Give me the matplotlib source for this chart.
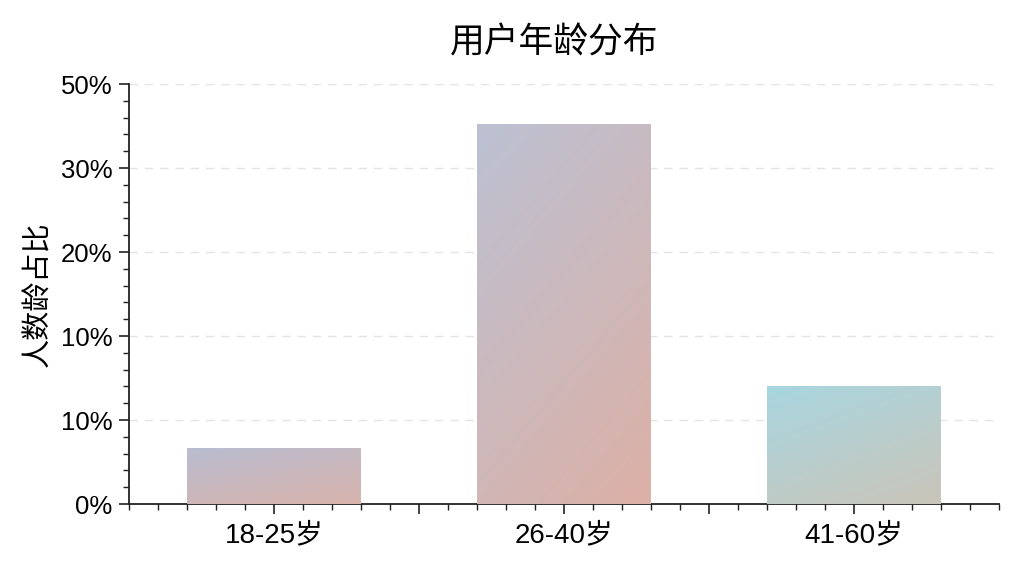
import numpy as np
import matplotlib
matplotlib.use("Agg")
import matplotlib.pyplot as plt
from matplotlib.colors import LinearSegmentedColormap
from matplotlib.ticker import MultipleLocator

plt.rcParams['font.family'] = ['Liberation Sans', 'Noto Sans CJK SC', 'DejaVu Sans']

categories = ["18-25岁", "26-40岁", "41-60岁"]
values = [6.7, 45.2, 14.1]
ytick_pos = [0, 10, 20, 30, 40, 50]
ytick_labels = ["0%", "10%", "10%", "20%", "30%", "50%"]
title = "用户年龄分布"
ylabel = "人数龄占比"
grad_start = ["#b9bdd0", "#bcc1d2", "#a8d6e0"]
grad_end = ["#d8b3ac", "#dcb0a6", "#cac5b9"]

fig = plt.figure(figsize=(10.24, 5.76), dpi=100)
ax = fig.add_axes([0.126, 0.125, 0.8496, 0.729])

x = np.arange(len(categories))
bars = ax.bar(x, values, width=0.6, color='none', edgecolor='none', zorder=3)

n = 100
u = np.linspace(0, 1, n)
U, V = np.meshgrid(u, u)
T = 0.35 * U + 0.65 * V
for b, c0, c1 in zip(bars, grad_start, grad_end):
    cmap = LinearSegmentedColormap.from_list("g", [c0, c1])
    x0, y0 = b.get_x(), b.get_y()
    w, h = b.get_width(), b.get_height()
    im = ax.imshow(T, cmap=cmap, extent=(x0, x0 + w, y0, y0 + h),
                   origin='upper', aspect='auto', zorder=3, interpolation='bilinear')
    im.set_clip_path(b)

for yv in ytick_pos[1:]:
    ax.axhline(yv, color='#e3e3e3', lw=1.0, ls=(0, (6, 5)), zorder=1)

ax.set_xlim(-0.5, 2.5)
ax.set_ylim(0, 50)
ax.set_yticks(ytick_pos)
ax.set_yticklabels(ytick_labels, fontsize=18.5)
ax.yaxis.set_minor_locator(MultipleLocator(2))
ax.set_xticks([0, 0.5, 1, 1.5, 2])
ax.set_xticklabels([categories[0], "", categories[1], "", categories[2]], fontsize=20)
ax.xaxis.set_minor_locator(MultipleLocator(0.1))

for s in ['top', 'right']:
    ax.spines[s].set_visible(False)
for s in ['left', 'bottom']:
    ax.spines[s].set_linewidth(1.3)
    ax.spines[s].set_color('#222222')

ax.tick_params(axis='both', which='major', direction='out', length=7, width=1.2, color='#222222')
ax.tick_params(axis='both', which='minor', direction='out', length=4, width=1.0, color='#222222')
ax.tick_params(axis='x', which='major', pad=6)
ax.tick_params(axis='y', which='major', pad=5)

ax.set_ylabel(ylabel, fontsize=21, labelpad=6)
fig.text(0.541, 0.925, title, ha='center', va='center', fontsize=25)

fig.savefig("out.png", dpi=100, facecolor='white')
